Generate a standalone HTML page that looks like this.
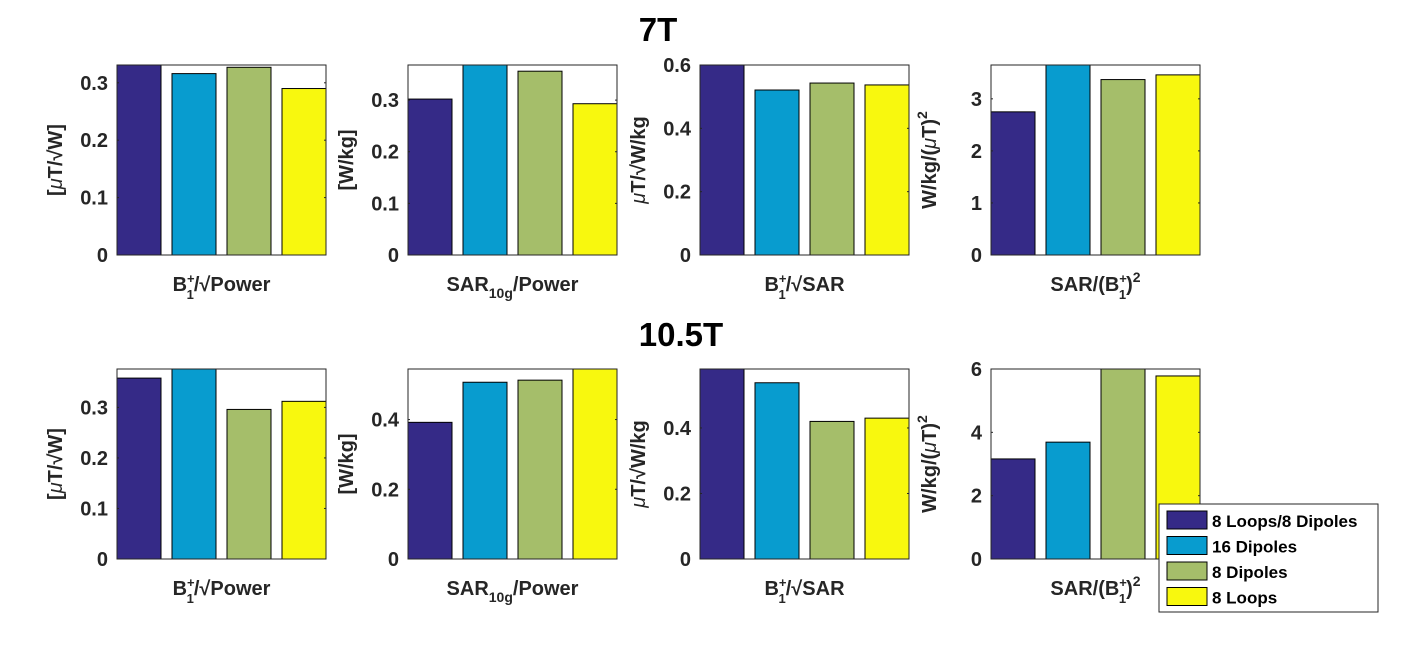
<!DOCTYPE html>
<html><head><meta charset="utf-8"><style>
html,body{margin:0;padding:0;background:#fff;}
svg{display:block;font-family:"Liberation Sans",sans-serif;font-weight:bold;}
</style></head><body>
<svg id="c" width="1415" height="645" viewBox="0 0 1415 645">
<text x="658" y="41" font-size="33" text-anchor="middle" fill="#000">7T</text>
<text x="681" y="346" font-size="33" text-anchor="middle" fill="#000">10.5T</text>
</svg>
<script>
const series = ["8 Loops/8 Dipoles","16 Dipoles","8 Dipoles","8 Loops"];
const colors = ["#352a87","#089ccf","#a5be6a","#f8f80e"];
const v7_b1power = [0.331,0.316,0.327,0.290];
const v7_sarpower = [0.302,0.368,0.356,0.293];
const v7_b1sar = [0.600,0.521,0.543,0.537];
const v7_sarb1 = [2.75,3.65,3.37,3.46];
const v105_b1power = [0.358,0.376,0.296,0.312];
const v105_sarpower = [0.392,0.507,0.513,0.545];
const v105_b1sar = [0.580,0.538,0.420,0.430];
const v105_sarb1 = [3.16,3.69,6.0,5.78];
const ymaxes = [0.331,0.368,0.6,3.65,0.376,0.545,0.58,6.0];
const ticks = [[0,0.1,0.2,0.3],[0,0.1,0.2,0.3],[0,0.2,0.4,0.6],[0,1,2,3],[0,0.1,0.2,0.3],[0,0.2,0.4],[0,0.2,0.4],[0,2,4,6]];
const tickLabels = [["0","0.1","0.2","0.3"],["0","0.1","0.2","0.3"],["0","0.2","0.4","0.6"],["0","1","2","3"],["0","0.1","0.2","0.3"],["0","0.2","0.4"],["0","0.2","0.4"],["0","2","4","6"]];
const allVals = [v7_b1power,v7_sarpower,v7_b1sar,v7_sarb1,v105_b1power,v105_sarpower,v105_b1sar,v105_sarb1];
const xlabels = ['B<tspan font-size="13" dy="-8">+</tspan><tspan font-size="13" dx="-8" dy="16">1</tspan><tspan dy="-8">/√Power</tspan>',
 'SAR<tspan font-size="14" dy="7">10g</tspan><tspan dy="-7">/Power</tspan>',
 'B<tspan font-size="13" dy="-8">+</tspan><tspan font-size="13" dx="-8" dy="16">1</tspan><tspan dy="-8">/√SAR</tspan>',
 'SAR/(B<tspan font-size="13" dy="-8">+</tspan><tspan font-size="13" dx="-8" dy="16">1</tspan><tspan dy="-8">)</tspan><tspan font-size="14" dy="-9">2</tspan>'];
const ylabels = ['[<tspan font-style="italic" font-weight="normal">μ</tspan>T/√W]','[W/kg]','<tspan font-style="italic" font-weight="normal">μ</tspan>T/√W/kg','W/kg/(<tspan font-style="italic" font-weight="normal">μ</tspan>T)<tspan font-size="14" dy="-9">2</tspan>'];
const names = ["b1-power","sar-power","b1-sar","sar-b1sq"];
const svg = document.getElementById('c');
const NS = "http://www.w3.org/2000/svg";
function mk(t,a){const e=document.createElementNS(NS,t);for(const k in a)e.setAttribute(k,a[k]);svg.appendChild(e);return e;}
const W=209,H=190;
for(let p=0;p<8;p++){
  const col=p%4,row=Math.floor(p/4);
  const x0=[117,408,700,991][col];
  const yb=row?559:255, yt=yb-H;
  const ymax=ymaxes[p];
  const xs=c=>x0+(c+1-0.6)/3.8*W;
  const ys=v=>yb-Math.min(v,ymax)/ymax*H;
  const pre=(row?"105-":"7t-")+names[col];
  allVals[p].forEach((v,i)=>{
    const bw=0.8/3.8*W;
    const r=mk('rect',{x:xs(i)-bw/2,y:ys(v),width:bw,height:yb-ys(v),fill:colors[i],stroke:'#000','stroke-width':1});
    
    
  });
  const b=mk('rect',{x:x0,y:yt,width:W,height:H,fill:'none',stroke:'#262626','stroke-width':1});
  
  
  ticks[p].forEach((t,i)=>{
    mk('line',{x1:x0,x2:x0+2,y1:ys(t),y2:ys(t),stroke:'#262626'});
    mk('line',{x1:x0+W,x2:x0+W-2,y1:ys(t),y2:ys(t),stroke:'#262626'});
    const tl=mk('text',{x:x0-9,y:ys(t)+7,'font-size':20,'text-anchor':'end',fill:'#262626'});
    tl.textContent=tickLabels[p][i];
    
    
  });
  const xl=mk('text',{x:x0+W/2,y:yb+36,'font-size':20,'text-anchor':'middle',fill:'#262626'});
  xl.innerHTML=xlabels[col];
  
  
  const yl=mk('text',{transform:`translate(${x0-55},${yt+H/2}) rotate(-90)`,'font-size':20,'text-anchor':'middle',fill:'#262626'});
  yl.innerHTML=ylabels[col];
  
  
}
const lg=mk('rect',{x:1159,y:504,width:219,height:108,fill:'#fff',stroke:'#262626'});


series.forEach((s,i)=>{
  const y=511+i*25.5;
  const sw=mk('rect',{x:1167,y:y,width:40,height:18,fill:colors[i],stroke:'#000'});
  
  
  const t=mk('text',{x:1212,y:y+16,'font-size':17,fill:'#000'});
  t.textContent=s;
  
  
});
</script>
</body></html>
